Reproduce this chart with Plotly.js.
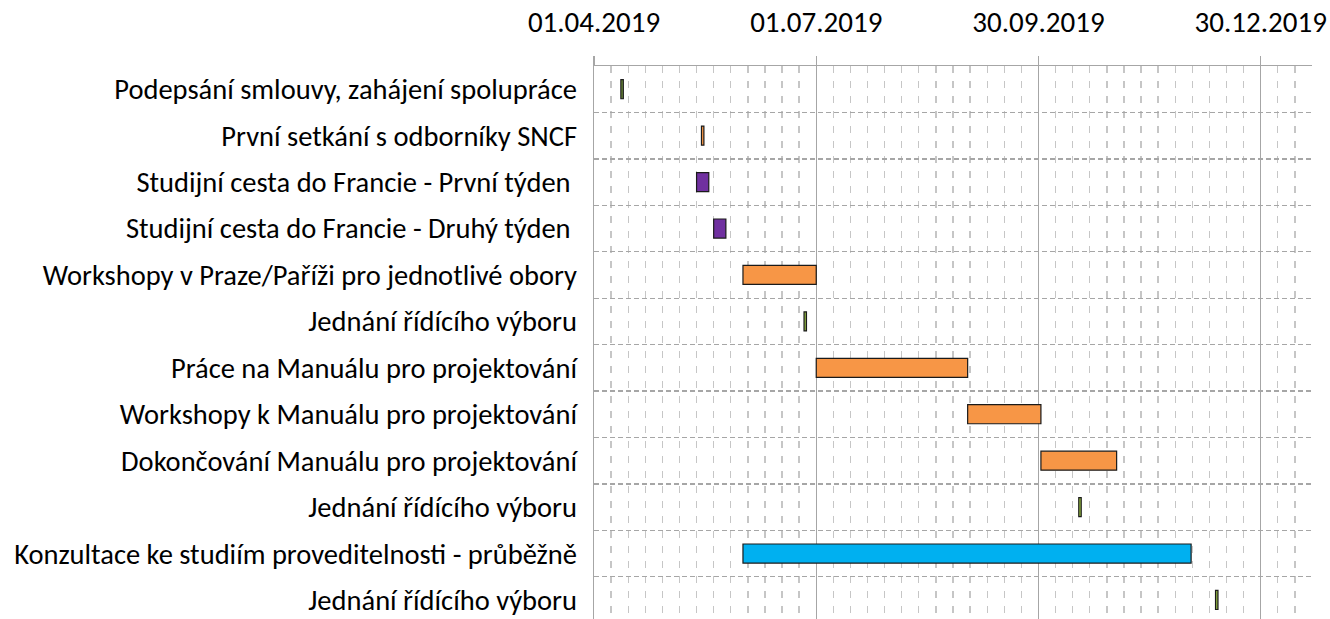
<!DOCTYPE html>
<html><head><meta charset="utf-8">
<script src="https://cdn.plot.ly/plotly-3.0.1.min.js"></script>
<style>html,body{margin:0;padding:0;background:#fff}</style>
</head><body><div id="chart" style="width:1330px;height:619px"></div>
<script>
// ---- data ----
const tasks = [
  'Podepsání smlouvy, zahájení spolupráce',
  'První setkání s odborníky SNCF',
  'Studijní cesta do Francie - První týden ',
  'Studijní cesta do Francie - Druhý týden ',
  'Workshopy v Praze/Paříži pro jednotlivé obory',
  'Jednání řídícího výboru',
  'Práce na Manuálu pro projektování',
  'Workshopy k Manuálu pro projektování',
  'Dokončování Manuálu pro projektování',
  'Jednání řídícího výboru',
  'Konzultace ke studiím proveditelnosti - průběžně',
  'Jednání řídícího výboru'
];
const startDates = [
  '2019-04-12', '2019-05-15', '2019-05-13', '2019-05-20',
  '2019-06-01', '2019-06-26', '2019-07-01', '2019-09-01',
  '2019-10-01', '2019-10-16 12:00', '2019-06-01', '2019-12-11 12:00'
];
const endDates = [
  '2019-04-13', '2019-05-16', '2019-05-18', '2019-05-25',
  '2019-07-01', '2019-06-27', '2019-09-01', '2019-10-01',
  '2019-11-01', '2019-10-17 12:00', '2019-12-01 12:00', '2019-12-12 12:00'
];
const barColors = [
  '#6F8F3A', '#F79646', '#7030A0', '#7030A0',
  '#F79646', '#8BAE40', '#F79646', '#F79646',
  '#F79646', '#9BC243', '#00B0F0', '#8BAE40'
];
const tickDates = ['2019-04-01', '2019-07-01', '2019-09-30', '2019-12-30'];
const tickLabels = ['01.04.2019', '01.07.2019', '30.09.2019', '30.12.2019'];
const axisRange = ['2019-04-01', '2020-01-20'];

// ---- helpers ----
function toMs(s) {
  const parts = s.split(' ');
  const d = parts[0].split('-').map(Number);
  const t = parts[1] ? parts[1].split(':').map(Number) : [0, 0];
  return Date.UTC(d[0], d[1] - 1, d[2], t[0], t[1]);
}
const rows = tasks.map((_, i) => i);
const durations = startDates.map((s, i) => toMs(endDates[i]) - toMs(s));
const DAY = 86400000;

const labelFont = {family: 'Carlito, Lato, sans-serif', size: 28.5, color: '#000000'};
const tickFont = {family: 'Carlito, Lato, sans-serif', size: 29, color: '#000000'};

const trace = {
  type: 'bar',
  orientation: 'h',
  y: rows,
  base: startDates,
  x: durations,
  width: 0.41,
  marker: {color: barColors, line: {color: '#1a1a1a', width: 1.2}},
  hoverinfo: 'skip'
};

const layout = {
  width: 1330, height: 619,
  margin: {l: 594, r: 18, t: 66, b: 0, pad: 0},
  paper_bgcolor: '#ffffff', plot_bgcolor: '#ffffff',
  showlegend: false,
  font: labelFont,
  xaxis: {
    type: 'date', side: 'top', range: axisRange,
    tickmode: 'array', tickvals: tickDates, ticktext: tickLabels,
    tickfont: tickFont, ticklabelstandoff: 12,
    ticks: 'outside', ticklen: 9, tickcolor: '#a6a6a6', tickwidth: 1.3,
    showgrid: true, gridcolor: '#a6a6a6', gridwidth: 1.3,
    showline: true, linecolor: '#a6a6a6', linewidth: 1.3,
    zeroline: false,
    minor: {tick0: '2019-04-01', dtick: 7 * DAY, showgrid: true, gridcolor: '#c6c6c6',
            gridwidth: 1.3, griddash: '7px,8px', ticks: ''},
    fixedrange: true
  },
  yaxis: {
    type: 'linear', range: [11.41, -0.5],
    tickmode: 'array', tickvals: rows, ticktext: tasks,
    tickfont: labelFont, ticks: '', ticklabelstandoff: 10,
    showgrid: false, zeroline: false,
    showline: true, linecolor: '#a6a6a6', linewidth: 1.3,
    minor: {tick0: 0.5, dtick: 1, showgrid: true, gridcolor: '#a6a6a6',
            gridwidth: 1.3, griddash: '5px,3px', ticks: ''},
    fixedrange: true
  },
  bargap: 0
};

Plotly.newPlot('chart', [trace], layout, {staticPlot: true, displayModeBar: false});
</script></body></html>
